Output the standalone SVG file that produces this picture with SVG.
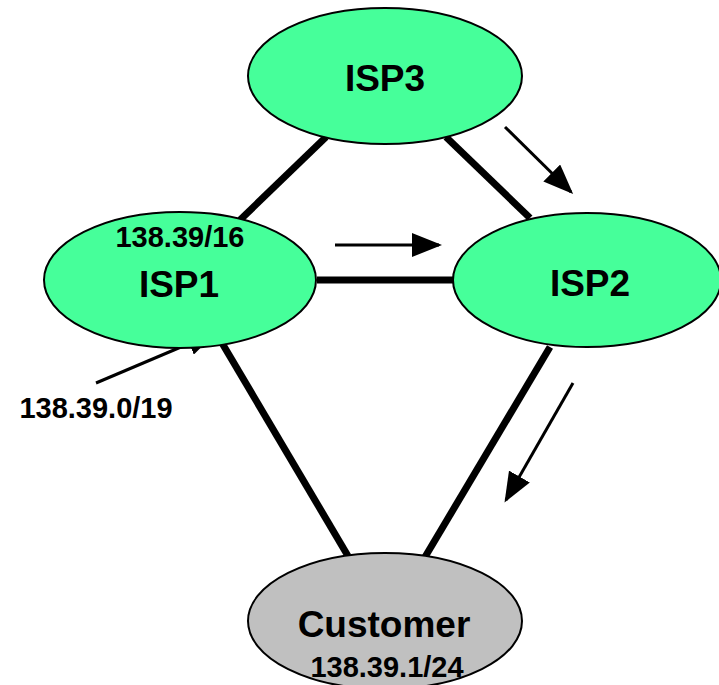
<svg xmlns="http://www.w3.org/2000/svg" width="719" height="685" viewBox="0 0 719 685">
<style>
.node{stroke:#000;stroke-width:2}
.isp{fill:#46FF9A}
.cust{fill:#C0C0C0}
.link{stroke:#000;stroke-width:7;fill:none}
.arr{stroke:#000;stroke-width:3;fill:none;marker-end:url(#ah)}
text{font-family:"Liberation Sans",Arial,sans-serif;font-weight:bold;fill:#000;text-anchor:middle}
.big{font-size:37px}
.small{font-size:29px}
</style>
<defs>
<marker id="ah" markerWidth="10" markerHeight="8" refX="9" refY="4" orient="auto" markerUnits="strokeWidth">
<path d="M0,0 L10,4 L0,8 Z" fill="#000"/>
</marker>
</defs>
<rect width="719" height="685" fill="#fff"/>
<g id="connectors">
<line class="link" x1="240" y1="220" x2="326" y2="137"/>
<line class="link" x1="446" y1="137" x2="530" y2="218"/>
<line class="link" x1="317" y1="280" x2="454" y2="280"/>
<line class="link" x1="222" y1="343" x2="348" y2="556"/>
<line class="link" x1="550" y1="347" x2="425" y2="557"/>
<line class="arr" x1="505" y1="127" x2="571" y2="192"/>
<line class="arr" x1="335" y1="245" x2="439" y2="245"/>
<line class="arr" x1="573" y1="383" x2="506" y2="500"/>
<line class="arr" x1="96" y1="383" x2="214" y2="333"/>
</g>
<g id="isp3">
<ellipse class="node isp" cx="385" cy="76" rx="137" ry="68"/>
<text class="big" x="385" y="91">ISP3</text>
</g>
<g id="isp1">
<ellipse class="node isp" cx="180" cy="280" rx="136" ry="68"/>
<text class="small" x="180" y="247">138.39/16</text>
<text class="big" x="179" y="297">ISP1</text>
</g>
<g id="isp2">
<ellipse class="node isp" cx="587" cy="280" rx="134" ry="67"/>
<text class="big" x="590" y="296">ISP2</text>
</g>
<g id="customer">
<ellipse class="node cust" cx="385" cy="621" rx="137" ry="68"/>
<text class="big" x="384" y="637">Customer</text>
<text class="small" x="387" y="677">138.39.1/24</text>
</g>
<g id="label-19">
<text class="small" x="96" y="418">138.39.0/19</text>
</g>
</svg>
